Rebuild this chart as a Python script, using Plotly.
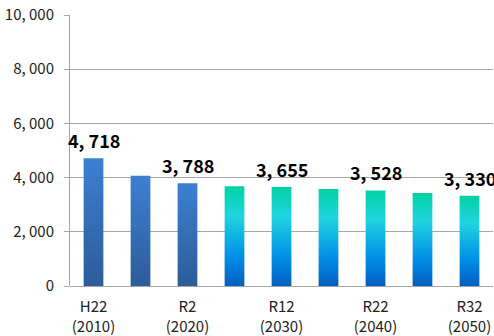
import plotly.graph_objects as go

years = [2010, 2015, 2020, 2025, 2030, 2035, 2040, 2045, 2050]
eras = ["H22", "H27", "R2", "R7", "R12", "R17", "R22", "R27", "R32"]
population = [4718, 4070, 3788, 3680, 3655, 3580, 3528, 3430, 3330]
is_actual = [True, True, True, False, False, False, False, False, False]
labeled = [True, False, True, False, True, False, True, False, True]
y_ticks = [0, 2000, 4000, 6000, 8000, 10000]

FONT = "Noto Sans CJK JP"
BAR_W = 0.42

def fmt(v):
    return f"{v:,}".replace(",", ", ")

actual_scale = [[0, "#2d5c98"], [1, "#3c80d2"]]
proj_scale = [[0, "#005ec0"], [0.3, "#0090e6"], [0.7, "#20d4e0"], [1, "#00d2a2"]]

fig = go.Figure()
for i, (yr, v, act) in enumerate(zip(years, population, is_actual)):
    x0, x1 = i - BAR_W / 2, i + BAR_W / 2
    fig.add_trace(go.Scatter(
        x=[x0, x1, x1, x0, x0],
        y=[0, 0, v, v, 0],
        mode="lines",
        line=dict(width=0),
        fill="toself",
        fillgradient=dict(type="vertical", colorscale=actual_scale if act else proj_scale,
                          start=0, stop=v),
        name=str(yr),
        hoverinfo="text",
        text=f"{yr}: {fmt(v)}",
        showlegend=False,
    ))

for i, (v, lab) in enumerate(zip(population, labeled)):
    if lab:
        fig.add_annotation(x=i, y=v, text=fmt(v), showarrow=False,
                           yanchor="bottom", yshift=3,
                           font=dict(family=FONT, size=18, color="#000000", weight="bold"))

tick_idx = [i for i, lab in enumerate(labeled) if lab]
fig.update_xaxes(
    range=[-0.5, len(years) - 0.5],
    tickmode="array",
    tickvals=tick_idx,
    ticktext=[f"{eras[i]}<br>({years[i]})" for i in tick_idx],
    showgrid=False, zeroline=False, showline=False, ticks="",
    tickfont=dict(family=FONT, size=15, color="#222222"),
    ticklabelstandoff=10,
)
fig.update_yaxes(
    range=[0, 10000],
    tickmode="array",
    tickvals=y_ticks,
    ticktext=[fmt(t) for t in y_ticks],
    showgrid=True, gridcolor="#a6a6a6", gridwidth=1,
    zeroline=True, zerolinecolor="#a6a6a6", zerolinewidth=1,
    showline=True, linecolor="#a6a6a6", linewidth=1,
    ticks="outside", ticklen=5, tickcolor="#a6a6a6",
    tickfont=dict(family=FONT, size=15, color="#222222"),
    ticklabelstandoff=7,
)
fig.update_layout(
    width=494, height=336,
    margin=dict(l=70, r=1, t=15, b=50),
    paper_bgcolor="white", plot_bgcolor="white",
    showlegend=False,
)
fig.write_html("out.html", config={"displayModeBar": False},
               post_script="document.body.style.margin='0';")
